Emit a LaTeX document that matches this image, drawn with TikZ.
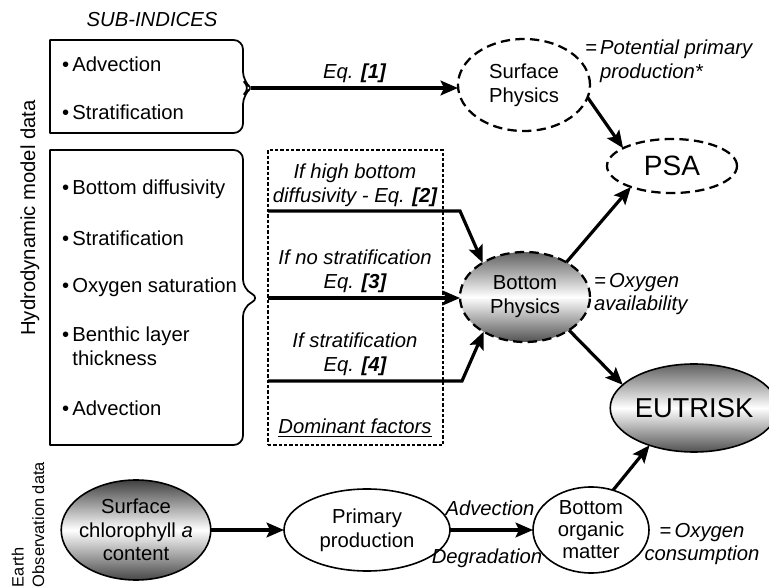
\documentclass[tikz,border=0pt]{standalone}
\usepackage{fontspec}
\setmainfont{Liberation Sans}
\usetikzlibrary{arrows.meta, calc, positioning, shapes.geometric}

\begin{document}
\begin{tikzpicture}[x=0.75pt, y=-0.75pt,
    every node/.style={font=\fontsize{15.2}{17.8}\selectfont, inner sep=0pt, outer sep=0pt},
    flow/.style={line width=2.4pt, -{Stealth[length=13pt, width=11pt, inset=2.5pt]}},
    dashpat/.style={line width=1.7pt, dash pattern=on 7pt off 4pt},
    dashell/.style={ellipse, draw, dashpat, align=center},
    shadeell/.style={ellipse, draw, top color=black!62, bottom color=black!68, middle color=white, align=center},
    solidell/.style={ellipse, draw, line width=1.2pt, align=center},
    note/.style={font=\fontsize{15.2}{17.8}\selectfont\itshape},
    item/.style={anchor=west, align=left},
    factorbox/.style={draw, line width=0.8pt, dash pattern=on 2.5pt off 1.5pt},
    bracebox/.style={line width=1.3pt, line join=round}
  ]
      \useasboundingbox (0,0) rectangle (769,588);

      % side titles
      \node[rotate=90] (hydro) at (30,218) {Hydrodynamic model data};
      \node[rotate=90, anchor=west, align=left, font=\fontsize{12.3}{15.5}\selectfont] (earth) at (28,587) {Earth\\Observation data};
      \node[note] (sub) at (152,20) {SUB-INDICES};

      % sub-index boxes
      \draw[bracebox] (50,133) -- (50,40) [rounded corners=7pt] -- (243,40) -- (243,81) -- (251,88) -- (243,95) -- (243,133) [sharp corners] -- (50,133) -- cycle;
      \node[item] (it1a) at (62,64) {\textbullet\,Advection};
      \node[item] (it1b) at (62,112) {\textbullet\,Stratification};

      \draw[bracebox] (50,445) -- (50,150) [rounded corners=7pt] -- (243,150) -- (243,289) -- (260,298) -- (243,307) -- (243,445) [sharp corners] -- (50,445) -- cycle;
      \node[item] (it2a) at (62,189) {\textbullet\,Bottom diffusivity};
      \node[item] (it2b) at (62,238) {\textbullet\,Stratification};
      \node[item] (it2c) at (62,287) {\textbullet\,Oxygen saturation};
      \node[item] (it2d) at (62,346) {\textbullet\,Benthic layer\\\phantom{\textbullet\,}thickness};
      \node[item] (it2e) at (62,408) {\textbullet\,Advection};

      % dominant factors
      \node[factorbox, minimum width=131.25pt, minimum height=221.25pt] (factors) at (355.5,297.5) {};
      \node[note, align=center] (lbl2) at (355,185) {If high bottom\\diffusivity - Eq. \textbf{[2]}};
      \node[note, align=center] (lbl3) at (355,271) {If no stratification\\Eq. \textbf{[3]}};
      \node[note, align=center] (lbl4) at (355,354) {If stratification\\Eq. \textbf{[4]}};
      \node[note] (dom) at (355,428) {\underline{Dominant factors}};

      % physics and index nodes
      \node[dashell, minimum width=99pt, minimum height=69pt] (surf) at (524,85) {Surface\\Physics};
      \node[dashell, minimum width=97.5pt, minimum height=40.5pt, font=\fontsize{21}{24}\selectfont] (psa) at (672,166) {PSA};
      \node[shadeell, dashpat, minimum width=97.5pt, minimum height=67.5pt] (bot) at (525,297) {Bottom\\Physics};
      \node[shadeell, line width=1.2pt, minimum width=108pt, minimum height=66pt, font=\fontsize{20.5}{24}\selectfont] (eut) at (694,408) {EUTRISK};

      \node[note, anchor=west, align=left] (potnote) at (585,61) {=\,Potential primary\\\phantom{=\,}production*};
      \node[note, anchor=west, align=left] (oxnote) at (594,294) {=\,Oxygen\\availability};

      % earth observation chain
      \node[shadeell, line width=1.2pt, inner sep=-3pt, minimum width=109.5pt, minimum height=75pt, top color=black!75, bottom color=black!72, middle color=white] (chl) at (136,530) {Surface\\chlorophyll \textit{a}\\content};
      \node[solidell, minimum width=124.5pt, minimum height=61.5pt] (prim) at (367,530) {Primary\\production};
      \node[solidell, inner sep=-3pt, minimum width=87pt, minimum height=64.5pt, font=\fontsize{15.2}{16.5}\selectfont] (bom) at (591,530) {Bottom\\organic\\matter};
      \node[note, align=center] (consnote) at (702,544) {=\,Oxygen\\consumption};

      % connectors
      \coordinate (tip1) at (251,88);
      \coordinate (f2) at (268,211);
      \coordinate (k2) at (460,211);
      \coordinate (f3) at (268,298);
      \coordinate (f4) at (268,381);
      \coordinate (k4) at (462,381);

      \draw[flow] (tip1) -- (tip1 -| surf.west) node[midway, above=4pt, note] (eq1) {Eq. \textbf{[1]}};
      \draw[flow] (f2) -- (k2) -- (bot.141);
      \draw[flow] (f3) -- (f3 -| bot.west);
      \draw[flow] (f4) -- (k4) -- (bot.220);
      \draw[flow] (surf.349) -- (psa.160);
      \draw[flow] (bot.40) -- (psa.207);
      \draw[flow] (bot.323) -- (eut.162);
      \draw[flow] (bom.61) -- (eut.220);
      \draw[flow] (chl) -- (prim);
      \draw[flow] (prim) -- (bom);
      \node[note] (adv) at (490,508) {Advection};
      \node[note] (deg) at (487,558) {Degradation};
\end{tikzpicture}
\end{document}
